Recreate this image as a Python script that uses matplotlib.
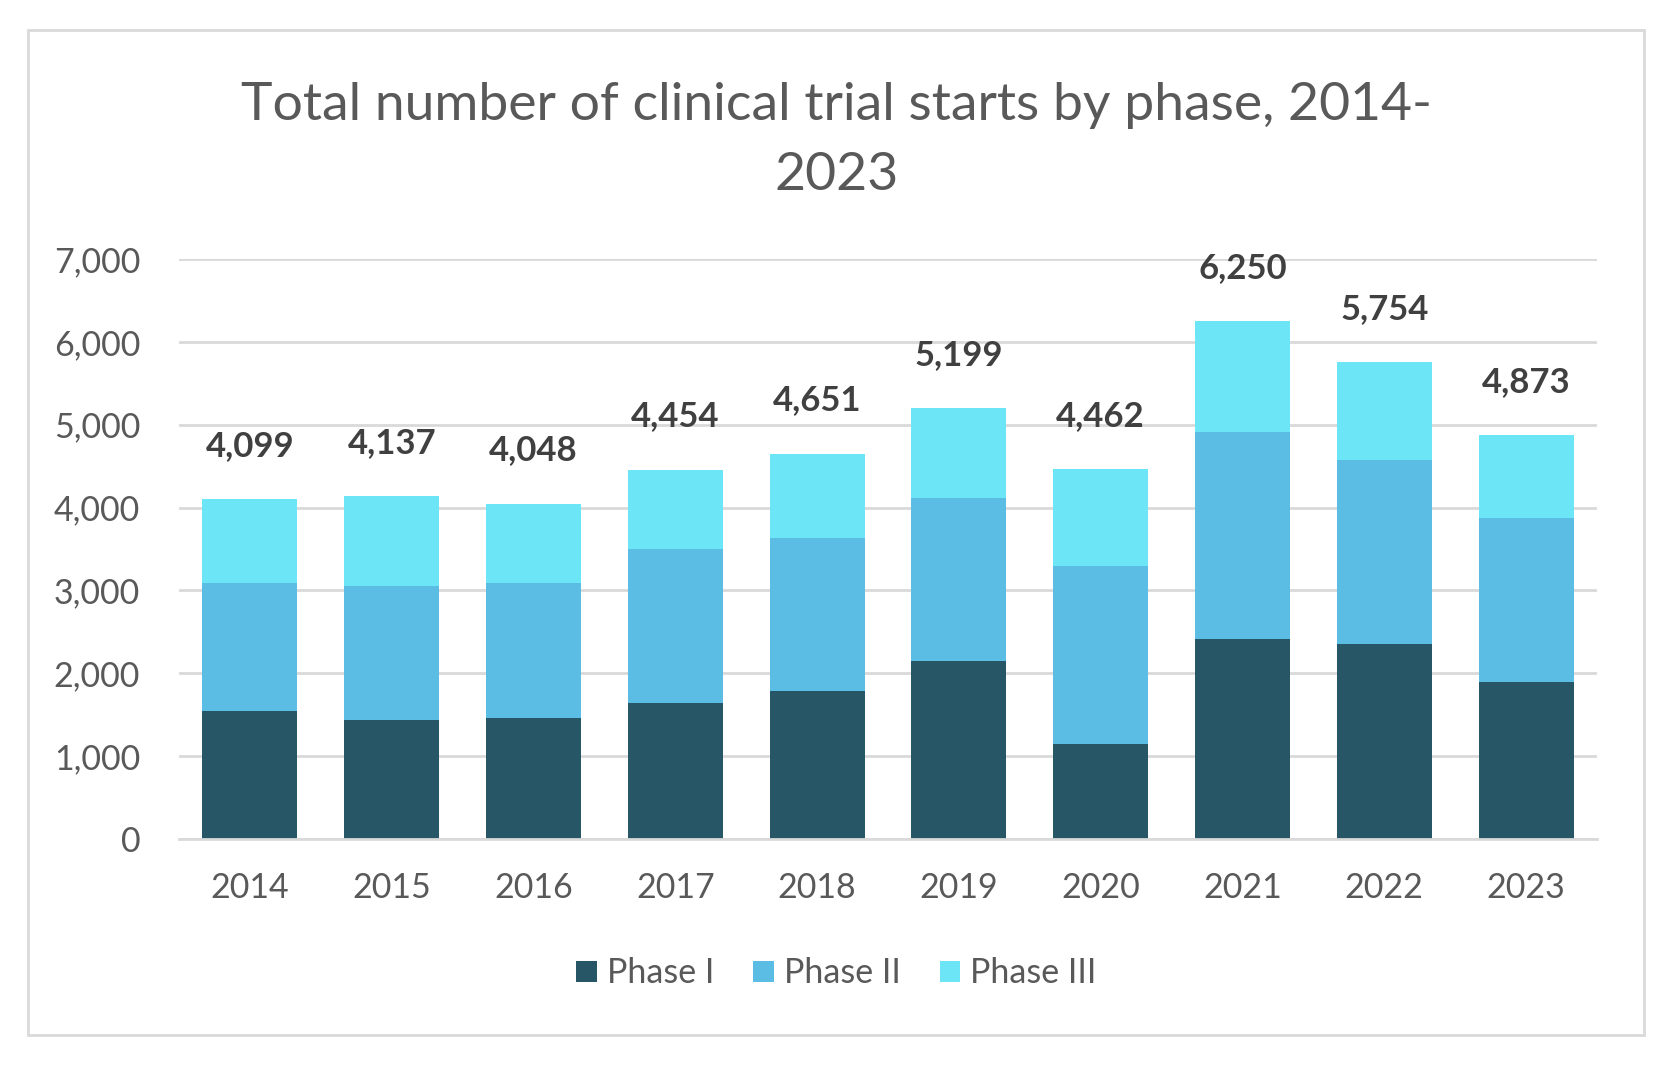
import numpy as np
import matplotlib
matplotlib.use("Agg")
import matplotlib.pyplot as plt
from matplotlib.patches import Rectangle

# data
years = ["2014", "2015", "2016", "2017", "2018", "2019", "2020", "2021", "2022", "2023"]
phase1 = [1550, 1434, 1460, 1641, 1783, 2145, 1150, 2416, 2351, 1899]
phase2 = [1538, 1615, 1628, 1860, 1847, 1976, 2145, 2494, 2223, 1977]
totals = [4099, 4137, 4048, 4454, 4651, 5199, 4462, 6250, 5754, 4873]
phase3 = [t - a - b for t, a, b in zip(totals, phase1, phase2)]

series_names = ["Phase I", "Phase II", "Phase III"]
colors = ["#275767", "#5BBCE4", "#6CE6F6"]

plt.rcParams['font.family'] = ['Lato', 'DejaVu Sans']
grey = "#595959"

fig = plt.figure(figsize=(16.78, 10.72), dpi=100)
ax = fig.add_axes([0.1067, 0.2174, 0.845, 0.541])

x = np.arange(len(years))
w = 0.67
b1 = ax.bar(x, phase1, w, color=colors[0], label=series_names[0], zorder=3)
b2 = ax.bar(x, phase2, w, bottom=phase1, color=colors[1], label=series_names[1], zorder=3)
bottom3 = [a + b for a, b in zip(phase1, phase2)]
b3 = ax.bar(x, phase3, w, bottom=bottom3, color=colors[2], label=series_names[2], zorder=3)

# total labels above each bar
for xi, t in zip(x, totals):
    ax.annotate(f"{t:,}", (xi, t), xytext=(0, 38.5), textcoords="offset points",
                ha="center", va="center", fontsize=25, fontweight="bold", color="#404040")

ax.set_xlim(-0.5, len(years) - 0.5)
ax.set_ylim(0, 7000)
ax.set_yticks(range(0, 7001, 1000))
ax.set_yticklabels([f"{v:,}" for v in range(0, 7001, 1000)])
ax.set_xticks(x)
ax.set_xticklabels(years)
ax.tick_params(axis="y", length=0, pad=28, labelsize=24.5, labelcolor=grey)
ax.tick_params(axis="x", length=0, pad=24, labelsize=24.5, labelcolor=grey)
ax.grid(axis="y", color="#D9D9D9", linewidth=2, zorder=0)
for s in ["top", "right", "left"]:
    ax.spines[s].set_visible(False)
ax.spines["bottom"].set_color("#D9D9D9")
ax.spines["bottom"].set_linewidth(2)
ax.spines["bottom"].set_zorder(4)

fig.text(0.4985, 0.869, "Total number of clinical trial starts by phase, 2014-\n2023",
         ha="center", va="center", fontsize=38.5, color=grey, linespacing=1.6)

fig.legend(handles=[b1, b2, b3], loc="center", bbox_to_anchor=(0.4985, 0.092), ncol=3,
           frameon=False, fontsize=24.5, labelcolor=grey, handlelength=0.6, handleheight=0.6,
           handletextpad=0.3, columnspacing=1.15)

fig.patches.append(Rectangle((28 / 1678, 1 - 1035 / 1072), 1616 / 1678, 1005 / 1072,
                             transform=fig.transFigure, fill=False, edgecolor="#D9D9D9",
                             linewidth=2))

fig.savefig("out.png", dpi=100, facecolor="white")
